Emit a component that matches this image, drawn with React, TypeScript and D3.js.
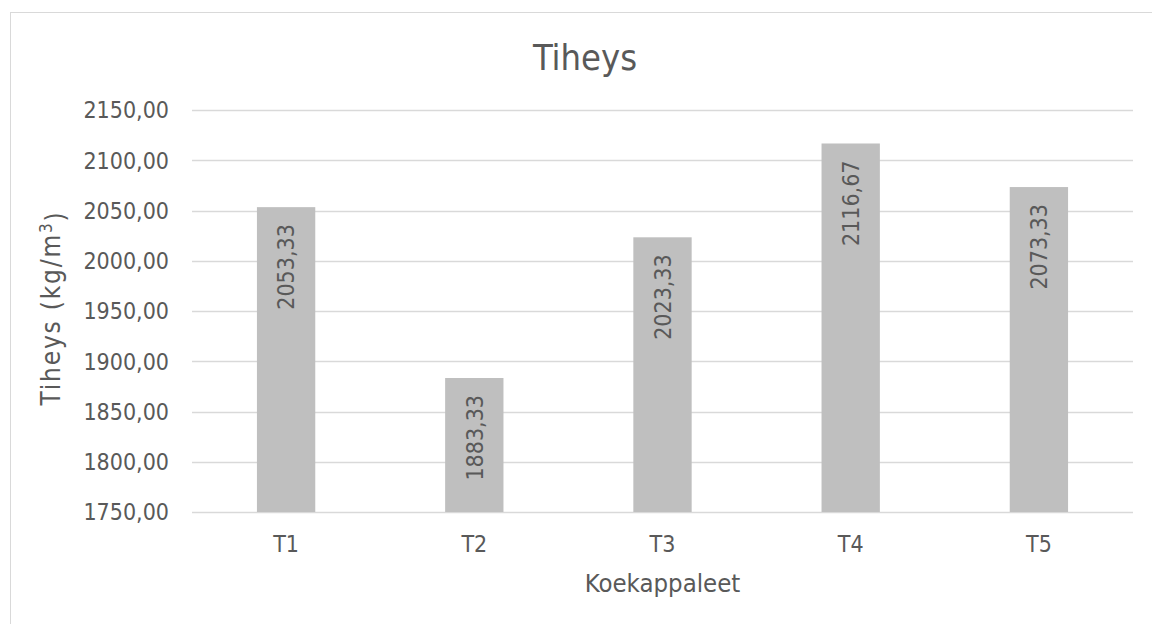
import * as d3 from 'd3';
import { useEffect, useRef } from 'react';

const categories = ['T1', 'T2', 'T3', 'T4', 'T5'];
const densities = [2053.33, 1883.33, 2023.33, 2116.67, 2073.33];
const yTicks = [1750, 1800, 1850, 1900, 1950, 2000, 2050, 2100, 2150];

const width = 1152;
const height = 624;
const plot = { left: 192, right: 1133, top: 110, bottom: 512 };

const textColor = '#595959';
const gridColor = '#d9d9d9';
const barColor = '#bfbfbf';
const fontFamily = '"DejaVu Sans Condensed", "DejaVu Sans", sans-serif';

// finnish style decimals: 2053,33
const fmt = (v: number) => v.toFixed(2).replace('.', ',');

export default function App() {
    const svgRef = useRef<SVGSVGElement>(null);

    useEffect(() => {
        const svg = d3.select(svgRef.current);
        svg.selectAll('*').remove();

        // chart frame (runs off the right/bottom edge like the original)
        svg.append('rect')
            .attr('x', 10.5)
            .attr('y', 12.5)
            .attr('width', 1160)
            .attr('height', 640)
            .attr('fill', 'white')
            .attr('stroke', gridColor);

        const x = d3.scaleBand<string>()
            .domain(categories)
            .range([plot.left, plot.right])
            .padding(0);

        const y = d3.scaleLinear()
            .domain([1750, 2150])
            .range([plot.bottom, plot.top]);

        // horizontal gridlines
        svg.append('g')
            .selectAll('line')
            .data(yTicks)
            .join('line')
            .attr('x1', plot.left)
            .attr('x2', plot.right)
            .attr('y1', (d) => Math.round(y(d)) + 0.5)
            .attr('y2', (d) => Math.round(y(d)) + 0.5)
            .attr('stroke', gridColor)
            .attr('stroke-width', 1.5);

        // y tick labels
        svg.append('g')
            .selectAll('text')
            .data(yTicks)
            .join('text')
            .attr('x', 169)
            .attr('y', (d) => y(d))
            .attr('dy', '0.36em')
            .attr('text-anchor', 'end')
            .attr('fill', textColor)
            .style('font-family', fontFamily)
            .style('font-size', '23px')
            .text((d) => fmt(d));

        const barW = x.bandwidth() * 0.31;
        const rows = categories.map((c, i) => ({ c, v: densities[i] }));

        // bars
        svg.append('g')
            .selectAll('rect')
            .data(rows)
            .join('rect')
            .attr('x', (d) => x(d.c)! + x.bandwidth() / 2 - barW / 2)
            .attr('y', (d) => y(d.v))
            .attr('width', barW)
            .attr('height', (d) => plot.bottom - y(d.v))
            .attr('fill', barColor);

        // value labels, rotated inside the top of each bar
        svg.append('g')
            .selectAll('text')
            .data(rows)
            .join('text')
            .attr('transform', (d) => `translate(${x(d.c)! + x.bandwidth() / 2},${y(d.v) + 17}) rotate(-90)`)
            .attr('dy', '0.36em')
            .attr('text-anchor', 'end')
            .attr('fill', textColor)
            .style('font-family', fontFamily)
            .style('font-size', '23px')
            .text((d) => fmt(d.v));

        // category labels
        svg.append('g')
            .selectAll('text')
            .data(categories)
            .join('text')
            .attr('x', (d) => x(d)! + x.bandwidth() / 2)
            .attr('y', 552)
            .attr('text-anchor', 'middle')
            .attr('fill', textColor)
            .style('font-family', fontFamily)
            .style('font-size', '23px')
            .text((d) => d);

        // title
        svg.append('text')
            .attr('x', 585)
            .attr('y', 70)
            .attr('text-anchor', 'middle')
            .attr('fill', textColor)
            .style('font-family', fontFamily)
            .style('font-size', '36px')
            .text('Tiheys');

        // x axis title
        svg.append('text')
            .attr('x', (plot.left + plot.right) / 2)
            .attr('y', 592)
            .attr('text-anchor', 'middle')
            .attr('fill', textColor)
            .style('font-family', fontFamily)
            .style('font-size', '25.5px')
            .text('Koekappaleet');

        // y axis title with superscript 3
        const yTitle = svg.append('text')
            .attr('transform', `translate(60,308) rotate(-90)`)
            .attr('text-anchor', 'middle')
            .attr('fill', textColor)
            .style('font-family', fontFamily)
            .style('font-size', '26px')
            .style('letter-spacing', '1.8px');
        yTitle.append('tspan').text('Tiheys (kg/m');
        yTitle.append('tspan')
            .attr('dy', '-0.45em')
            .style('font-size', '17px')
            .text('3');
        yTitle.append('tspan')
            .attr('dy', '0.45em')
            .text(')');
    }, []);

    return (
        <svg
            ref={svgRef}
            width={width}
            height={height}
            style={{ position: 'absolute', left: 0, top: 0, display: 'block', background: 'white' }}
        />
    );
}
